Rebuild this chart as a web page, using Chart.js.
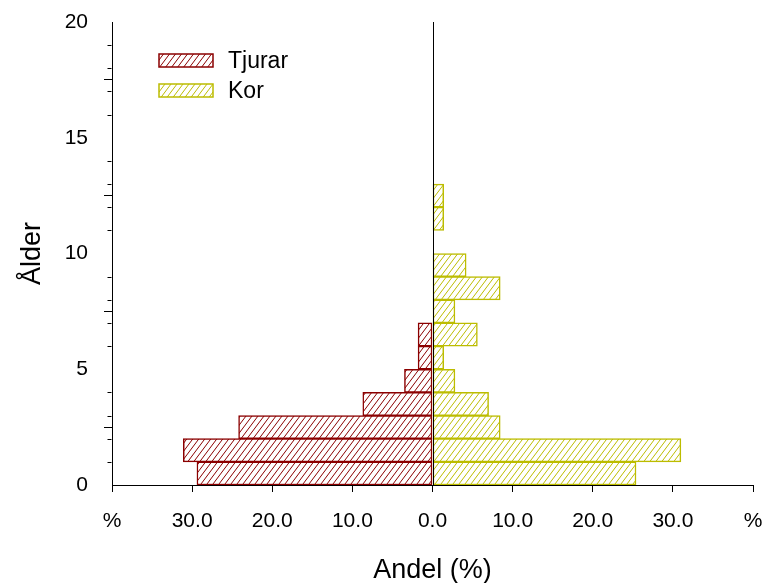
<!DOCTYPE html>
<html>
<head>
<meta charset="utf-8">
<script src="https://cdn.jsdelivr.net/npm/chart.js@4/dist/chart.umd.min.js"></script>
<style>
  html, body { margin: 0; padding: 0; background: #ffffff; }
  #wrap { width: 766px; height: 583px; }
</style>
</head>
<body>
<div id="wrap"><canvas id="c" width="766" height="583"></canvas></div>
<script>
// ---- data ----
const ages = [0, 1, 2, 3, 4, 5, 6, 7, 8, 9, 10, 11, 12];
const tjurar = [29.4, 31.1, 24.2, 8.7, 3.5, 1.8, 1.8, 0, 0, 0, 0, 0, 0];   // % (left side)
const kor    = [25.4, 31.0, 8.45, 7.0, 2.8, 1.4, 5.6, 2.8, 8.45, 4.2, 0, 1.4, 1.4]; // % (right side)
const seriesNames = ['Tjurar', 'Kor'];
const xTickValues = [-40, -30, -20, -10, 0, 10, 20, 30, 40];
const yTickValues = [0, 5, 10, 15, 20];
const xTitle = 'Andel (%)';
const yTitle = 'Ålder';

const RED = '#8b0000';
const YEL = '#bcbc00';
const FONT = "'Liberation Sans', Arial, sans-serif";

function hatch(color) {
  const w = 6, h = 8;
  const cv = document.createElement('canvas');
  cv.width = w; cv.height = h;
  const g = cv.getContext('2d');
  g.fillStyle = '#ffffff';
  g.fillRect(0, 0, w, h);
  g.strokeStyle = color;
  g.lineWidth = 1;
  g.beginPath();
  g.moveTo(-w, 2 * h); g.lineTo(2 * w, -h);
  g.moveTo(-2 * w, 2 * h); g.lineTo(w, -h);
  g.moveTo(0, 2 * h); g.lineTo(3 * w, -h);
  g.stroke();
  return g.createPattern(cv, 'repeat');
}

const redPat = hatch(RED);
const yelPat = hatch(YEL);

const leftData = ages.map((a, i) => ({ x: tjurar[i] ? -tjurar[i] : null, y: a + 0.5 }));
const rightData = ages.map((a, i) => ({ x: kor[i] ? kor[i] : null, y: a + 0.5 }));

const extras = {
  id: 'extras',
  afterDatasetsDraw(chart) {
    const ctx = chart.ctx;
    const xs = chart.scales.x, ys = chart.scales.y;
    const ca = chart.chartArea;
    ctx.save();
    // zero line
    const x0 = Math.round(xs.getPixelForValue(0)) + 0.5;
    ctx.strokeStyle = '#000';
    ctx.lineWidth = 1;
    ctx.beginPath();
    ctx.moveTo(x0, ca.top);
    ctx.lineTo(x0, ca.bottom);
    ctx.stroke();
    // minor y ticks
    const xl = Math.round(ys.right) - 0.5;
    ctx.beginPath();
    for (let v = ys.min; v <= ys.max; v++) {
      if (v % 5 === 0) continue;
      const y = Math.round(ys.getPixelForValue(v)) + 0.5;
      ctx.moveTo(xl - 4, y);
      ctx.lineTo(xl, y);
    }
    ctx.stroke();
    // legend
    const bx = ca.left + 47, by = ca.top + 32, bw = 54, bh = 13, gap = 30;
    chart.data.datasets.forEach((ds, i) => {
      const y = by + i * gap;
      ctx.fillStyle = ds.backgroundColor;
      ctx.fillRect(bx, y, bw, bh);
      ctx.strokeStyle = ds.borderColor;
      ctx.lineWidth = 1.5;
      ctx.strokeRect(bx, y, bw, bh);
      ctx.fillStyle = '#000';
      ctx.font = '23px ' + FONT;
      ctx.textBaseline = 'middle';
      ctx.textAlign = 'left';
      ctx.fillText(ds.label, bx + bw + 15, y + bh / 2 + 1);
    });
    ctx.restore();
  }
};

new Chart(document.getElementById('c'), {
  type: 'bar',
  data: {
    datasets: [
      { label: seriesNames[0], data: leftData, backgroundColor: redPat, borderColor: RED,
        borderWidth: 1.5, borderSkipped: false, categoryPercentage: 1, barPercentage: 1 },
      { label: seriesNames[1], data: rightData, backgroundColor: yelPat, borderColor: YEL,
        borderWidth: 1.5, borderSkipped: false, categoryPercentage: 1, barPercentage: 1 }
    ]
  },
  options: {
    indexAxis: 'y',
    responsive: false,
    animation: false,
    layout: { padding: { left: 0, right: 13, top: 22, bottom: 0 } },
    plugins: { legend: { display: false }, tooltip: { enabled: false } },
    scales: {
      x: {
        type: 'linear', stacked: true, min: -40, max: 40, offset: false,
        afterBuildTicks(s) { s.ticks = xTickValues.map(v => ({ value: v })); },
        afterFit(s) { s.height = 98; s.paddingLeft = 0; s.paddingRight = 0; },
        border: { display: true, color: '#000', width: 1 },
        grid: { drawOnChartArea: false, drawTicks: true, tickLength: 7, tickColor: '#000', tickWidth: 1 },
        ticks: {
          color: '#000', font: { family: FONT, size: 21 }, padding: 17, maxRotation: 0, autoSkip: false,
          callback: v => Math.abs(v) === 40 ? '%' : Math.abs(v).toFixed(1)
        },
        title: { display: true, text: xTitle, color: '#000', font: { family: FONT, size: 27, lineHeight: 0.95 }, padding: { top: 0, bottom: 0 } }
      },
      y: {
        type: 'linear', stacked: true, min: 0, max: 20, offset: false,
        afterBuildTicks(s) { s.ticks = yTickValues.map(v => ({ value: v })); },
        afterFit(s) { s.width = 112; s.paddingTop = 0; s.paddingBottom = 0; },
        border: { display: true, color: '#000', width: 1 },
        grid: { drawOnChartArea: false, drawTicks: true, tickLength: 8, tickColor: '#000', tickWidth: 1 },
        ticks: { color: '#000', font: { family: FONT, size: 21 }, padding: 16, autoSkip: false },
        title: { display: true, text: yTitle, color: '#000', font: { family: FONT, size: 27 }, padding: { top: 16, bottom: 0 } }
      }
    }
  },
  plugins: [extras]
});
</script>
</body>
</html>
